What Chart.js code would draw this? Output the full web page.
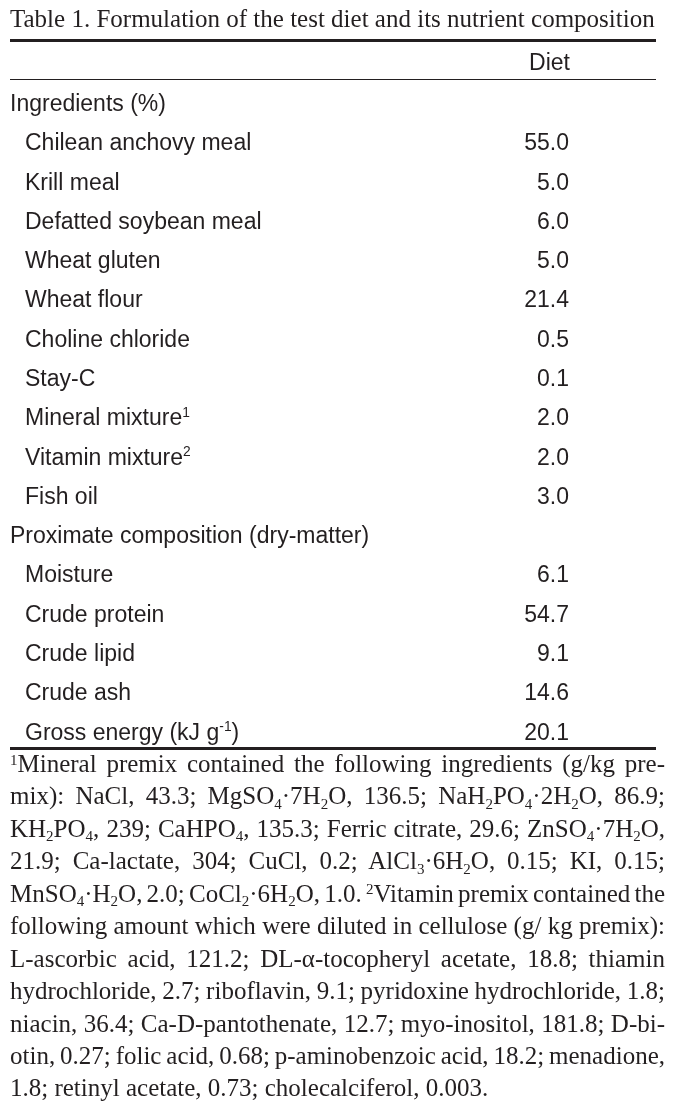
<!DOCTYPE html>
<html>
<head>
<meta charset="utf-8">
<script src="https://cdn.jsdelivr.net/npm/chart.js@4.4.1/dist/chart.umd.min.js"></script>
<style>
  html, body { margin:0; padding:0; background:#fff; }
  body { width:675px; height:1110px; position:relative; overflow:hidden; }
  #wrap { position:absolute; left:0; top:0; width:675px; height:760px; }
  #foot { position:absolute; left:10px; top:748px; width:655px; font-family:"Liberation Serif","Times New Roman",serif; font-size:25px; line-height:32.45px; color:#231f20; }
  #foot .ln { white-space:nowrap; height:32.45px; }
  #foot .ln span.t { display:inline-block; }
  .sb { font-size:0.6em; position:relative; top:0.3em; line-height:0; }
  .sp { font-size:0.6em; position:relative; top:-0.5em; line-height:0; }
</style>
</head>
<body>
<div id="wrap"><canvas id="c" width="675" height="760"></canvas></div>
<div id="foot"></div>
<script>
// ---- data ----
const tableTitle = "Table 1. Formulation of the test diet and its nutrient composition";
const columnHeader = "Diet";
const ingredientHeader = "Ingredients (%)";
const ingredientLabels = ["Chilean anchovy meal","Krill meal","Defatted soybean meal","Wheat gluten","Wheat flour","Choline chloride","Stay-C","Mineral mixture{1}","Vitamin mixture{2}","Fish oil"];
const ingredientValues = [55.0, 5.0, 6.0, 5.0, 21.4, 0.5, 0.1, 2.0, 2.0, 3.0];
const proximateHeader = "Proximate composition (dry-matter)";
const proximateLabels = ["Moisture","Crude protein","Crude lipid","Crude ash","Gross energy (kJ g{-1})"];
const proximateValues = [6.1, 54.7, 9.1, 14.6, 20.1];
const footnoteLines = [
  "<sup>1</sup>Mineral premix contained the following ingredients (g/kg pre-",
  "mix): NaCl, 43.3; MgSO<sub>4</sub>·7H<sub>2</sub>O, 136.5; NaH<sub>2</sub>PO<sub>4</sub>·2H<sub>2</sub>O, 86.9;",
  "KH<sub>2</sub>PO<sub>4</sub>, 239; CaHPO<sub>4</sub>, 135.3; Ferric citrate, 29.6; ZnSO<sub>4</sub>·7H<sub>2</sub>O,",
  "21.9; Ca-lactate, 304; CuCl, 0.2; AlCl<sub>3</sub>·6H<sub>2</sub>O, 0.15; KI, 0.15;",
  "MnSO<sub>4</sub>·H<sub>2</sub>O, 2.0; CoCl<sub>2</sub>·6H<sub>2</sub>O, 1.0. <sup>2</sup>Vitamin premix contained the",
  "following amount which were diluted in cellulose (g/ kg premix):",
  "L-ascorbic acid, 121.2; DL-α-tocopheryl acetate, 18.8; thiamin",
  "hydrochloride, 2.7; riboflavin, 9.1; pyridoxine hydrochloride, 1.8;",
  "niacin, 36.4; Ca-D-pantothenate, 12.7; myo-inositol, 181.8; D-bi-",
  "otin, 0.27; folic acid, 0.68; p-aminobenzoic acid, 18.2; menadione,",
  "1.8; retinyl acetate, 0.73; cholecalciferol, 0.003."
];

// ---- build rows ----
const rowLabels = [ingredientHeader, ...ingredientLabels, proximateHeader, ...proximateLabels];
const rowValues = [null, ...ingredientValues, null, ...proximateValues];
const rowIsHeader = rowLabels.map((l) => l === ingredientHeader || l === proximateHeader);

const INK = '#231f20';
const SANS = '"Liberation Sans", Arial, sans-serif';
const SERIF = '"Liberation Serif", "Times New Roman", serif';

function drawRich(ctx, text, x, y, size) {
  // "{...}" marks superscript
  const parts = text.split(/(\{[^}]*\})/).filter(s => s.length);
  let cx = x;
  for (const p of parts) {
    if (p[0] === '{') {
      const s = p.slice(1, -1);
      ctx.font = (size * 0.6) + 'px ' + SANS;
      ctx.fillText(s, cx, y - size * 0.38);
      cx += ctx.measureText(s).width;
    } else {
      ctx.font = size + 'px ' + SANS;
      ctx.fillText(p, cx, y);
      cx += ctx.measureText(p).width;
    }
  }
}

const tablePlugin = {
  id: 'tableText',
  afterDraw(chart) {
    const ctx = chart.ctx;
    const y = chart.scales.y;
    ctx.save();
    ctx.fillStyle = INK;
    ctx.strokeStyle = INK;
    ctx.textBaseline = 'alphabetic';
    // title
    ctx.textAlign = 'left';
    ctx.font = '25px ' + SERIF;
    const tw = ctx.measureText(tableTitle).width;
    const ts = 25 * 645 / tw;
    ctx.font = ts + 'px ' + SERIF;
    ctx.fillText(tableTitle, 10, 27);
    // rules
    const L = 10, R = 656;
    ctx.lineWidth = 3;
    ctx.beginPath(); ctx.moveTo(L, 40.5); ctx.lineTo(R, 40.5); ctx.stroke();
    ctx.lineWidth = 1;
    ctx.beginPath(); ctx.moveTo(L, 79.5); ctx.lineTo(R, 79.5); ctx.stroke();
    ctx.lineWidth = 3;
    ctx.beginPath(); ctx.moveTo(L, 748.5); ctx.lineTo(R, 748.5); ctx.stroke();
    // header
    ctx.font = '23px ' + SANS;
    ctx.textAlign = 'right';
    ctx.fillText(columnHeader, 570, 70);
    // rows
    const meta = chart.getDatasetMeta(0);
    rowLabels.forEach((lab, i) => {
      const py = y.getPixelForValue(i) + 8.3;
      ctx.textAlign = 'left';
      drawRich(ctx, lab, rowIsHeader[i] ? 10 : 25, py, 23);
      const v = rowValues[i];
      if (v !== null) {
        ctx.textAlign = 'right';
        ctx.font = '23px ' + SANS;
        const by = meta.data[i] ? meta.data[i].y + 8.3 : py;
        ctx.fillText(v.toFixed(1), 569, by);
      }
    });
    ctx.restore();
  }
};

new Chart(document.getElementById('c'), {
  type: 'bar',
  data: {
    labels: rowLabels,
    datasets: [{
      data: rowValues,
      backgroundColor: 'rgba(0,0,0,0)',
      borderWidth: 0
    }]
  },
  options: {
    indexAxis: 'y',
    responsive: false,
    animation: false,
    events: [],
    layout: { padding: { top: 83, bottom: 9, left: 10, right: 19 } },
    plugins: { legend: { display: false }, tooltip: { enabled: false }, title: { display: false } },
    scales: {
      x: { display: false, min: 0, max: 100 },
      y: { display: false, offset: true, grid: { display: false } }
    }
  },
  plugins: [tablePlugin]
});

// ---- footnote ----
const foot = document.getElementById('foot');
footnoteLines.forEach((html, i) => {
  const d = document.createElement('div');
  d.className = 'ln';
  const s = document.createElement('span');
  s.className = 't';
  s.innerHTML = html.replace(/<sub>/g, '<span class="sb">').replace(/<\/sub>/g, '</span>')
                    .replace(/<sup>/g, '<span class="sp">').replace(/<\/sup>/g, '</span>');
  d.appendChild(s);
  foot.appendChild(d);
});
function justify() {
  const lines = foot.querySelectorAll('.ln span.t');
  lines.forEach((s, i) => {
    if (i === lines.length - 1) return;
    s.style.wordSpacing = '0px';
    const w = s.getBoundingClientRect().width;
    const n = (s.textContent.match(/ /g) || []).length;
    if (n > 0) s.style.wordSpacing = ((655 - w) / n) + 'px';
  });
}
justify();
if (document.fonts && document.fonts.ready) document.fonts.ready.then(justify);
</script>
</body>
</html>
